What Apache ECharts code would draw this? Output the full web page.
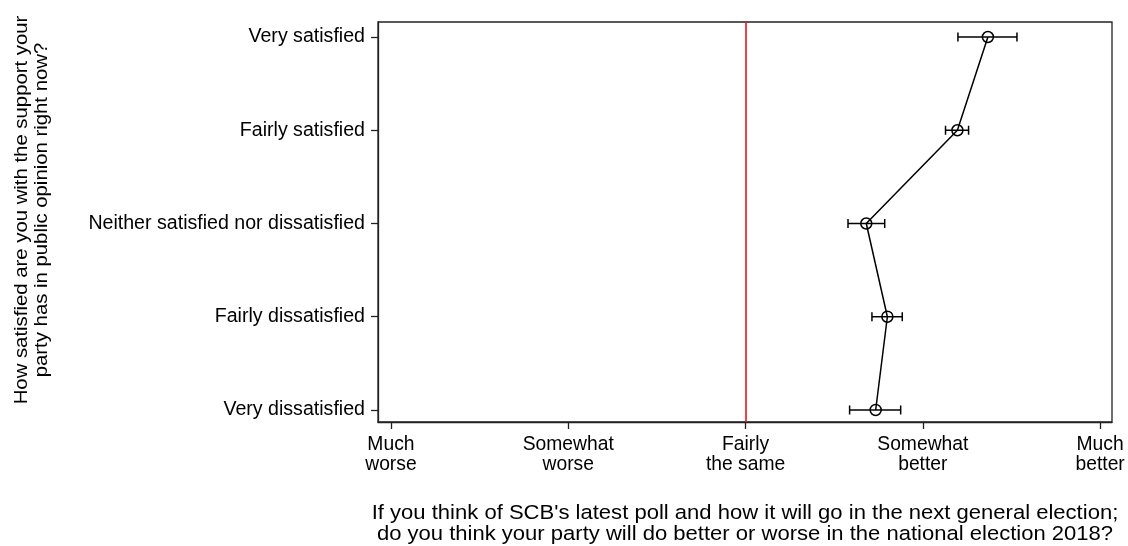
<!DOCTYPE html>
<html>
<head>
<meta charset="utf-8">
<script src="https://cdn.jsdelivr.net/npm/echarts@6/dist/echarts.min.js"></script>
<style>
  html, body { margin: 0; padding: 0; background: #fff; }
  #chart { width: 1128px; height: 546px; }
</style>
</head>
<body>
<div id="chart"></div>
<script>
// Satisfaction categories, bottom to top (y = 1..5)
const categories = [
  'Very dissatisfied',
  'Fairly dissatisfied',
  'Neither satisfied nor dissatisfied',
  'Fairly satisfied',
  'Very satisfied'
];
// Mean expectation (1 = much worse ... 5 = much better) and confidence bounds
const means = [3.734, 3.800, 3.681, 4.195, 4.367];
const lower = [3.587, 3.713, 3.578, 4.128, 4.198];
const upper = [3.875, 3.884, 3.785, 4.258, 4.531];
// Expectation scale labels
const xTickLabels = ['Much\nworse', 'Somewhat\nworse', 'Fairly\nthe same', 'Somewhat\nbetter', 'Much\nbetter'];
const xTitle = "If you think of SCB's latest poll and how it will go in the next general election;\ndo you think your party will do better or worse in the national election 2018?";
const yTitle = 'How satisfied are you with the support your\nparty has in public opinion right now?';

const FONT = '"Liberation Sans", Arial, Helvetica, sans-serif';
const yPos = categories.map((c, i) => i + 1);
const xPos = xTickLabels.map((c, i) => i + 1);

const chart = echarts.init(document.getElementById('chart'), null, { renderer: 'canvas' });

const errData = yPos.map((y, i) => [lower[i], upper[i], y]);
const pointData = yPos.map((y, i) => [means[i], y]);

chart.setOption({
  animation: false,
  backgroundColor: '#fff',
  grid: {
    left: 378, right: 16, top: 22, bottom: 124,
    show: true, borderColor: '#222', borderWidth: 1.3, backgroundColor: '#fff'
  },
  xAxis: {
    type: 'value',
    min: 0.927, max: 5.067,
    axisLine: { show: true, lineStyle: { color: '#222', width: 1.3 } },
    splitLine: { show: false },
    axisTick: { show: true, length: 7, lineStyle: { color: '#222', width: 1.3 }, customValues: xPos },
    axisLabel: {
      customValues: xPos,
      formatter: v => xTickLabels[Math.round(v) - 1],
      color: '#000', fontFamily: FONT, fontSize: 19.3, lineHeight: 20, margin: 13
    }
  },
  yAxis: {
    type: 'value',
    min: 0.871, max: 5.161,
    axisLine: { show: true, lineStyle: { color: '#222', width: 1.3 } },
    splitLine: { show: false },
    axisTick: { show: true, length: 7, lineStyle: { color: '#222', width: 1.3 }, customValues: yPos },
    axisLabel: {
      customValues: yPos,
      formatter: v => categories[Math.round(v) - 1],
      color: '#000', fontFamily: FONT, fontSize: 19.6, margin: 13
    }
  },
  graphic: [
    {
      // vertical axis title, reading bottom to top
      type: 'text',
      x: 32, y: 210,
      rotation: Math.PI / 2,
      scaleX: 1.07,
      style: {
        text: yTitle, fill: '#000', font: '19px ' + FONT,
        align: 'center', verticalAlign: 'middle', lineHeight: 20
      }
    },
    {
      // horizontal axis title
      type: 'text',
      x: 745, y: 524,
      scaleX: 1.075,
      style: {
        text: xTitle, fill: '#000', font: '20.5px ' + FONT,
        align: 'center', verticalAlign: 'middle', lineHeight: 21
      }
    }
  ],
  series: [
    {
      type: 'line',
      data: pointData,
      symbol: 'circle',
      symbolSize: 11,
      itemStyle: { color: 'rgba(0,0,0,0)', borderColor: '#000', borderWidth: 1.5 },
      lineStyle: { color: '#000', width: 1.5 },
      z: 3,
      markLine: {
        silent: true,
        symbol: 'none',
        label: { show: false },
        lineStyle: { color: '#e8141c', width: 1.6, type: 'solid' },
        data: [{ xAxis: 3 }]
      }
    },
    {
      type: 'custom',
      data: errData,
      z: 4,
      renderItem: (params, api) => {
        const y = api.value(2);
        const a = api.coord([api.value(0), y]);
        const b = api.coord([api.value(1), y]);
        const h = 4.5;
        const st = { stroke: '#000', lineWidth: 1.5 };
        return {
          type: 'group',
          children: [
            { type: 'line', shape: { x1: a[0], y1: a[1], x2: b[0], y2: b[1] }, style: st },
            { type: 'line', shape: { x1: a[0], y1: a[1] - h, x2: a[0], y2: a[1] + h }, style: st },
            { type: 'line', shape: { x1: b[0], y1: b[1] - h, x2: b[0], y2: b[1] + h }, style: st }
          ]
        };
      }
    }
  ]
});
</script>
</body>
</html>
